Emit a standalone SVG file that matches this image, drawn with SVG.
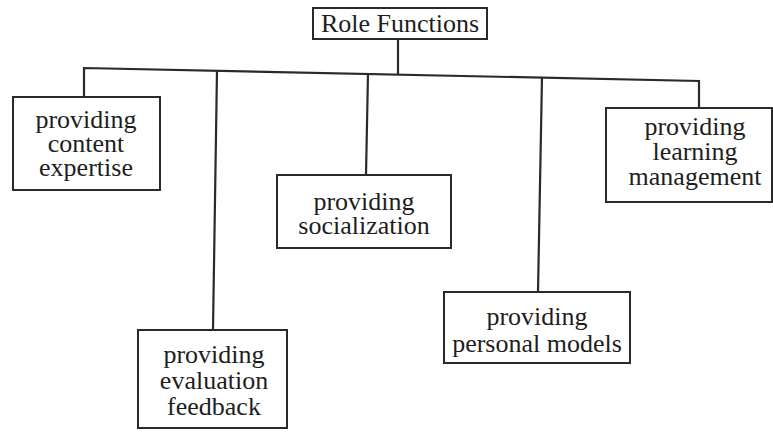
<svg xmlns="http://www.w3.org/2000/svg" width="773" height="432" viewBox="0 0 773 432">
<style>
.box{fill:#fff;stroke:#2a2a2a;stroke-width:2}
.ln{fill:none;stroke:#2a2a2a;stroke-width:2.2}
text{font-family:"Liberation Serif","Times New Roman",serif;font-size:26px;fill:#1e1e1e;text-anchor:middle}
</style>
<rect width="773" height="432" fill="#fff"/>
<g id="connectors">
<polyline class="ln" points="84,97 84,68 699,81 699,108"/>
<line class="ln" x1="398" y1="39" x2="398" y2="74"/>
<line class="ln" x1="217" y1="70" x2="213" y2="330"/>
<line class="ln" x1="368" y1="73" x2="366" y2="175"/>
<line class="ln" x1="542" y1="77" x2="538" y2="292"/>
</g>
<g id="role-functions">
<rect class="box" x="313" y="8" width="174" height="31"/>
<text x="400" y="32">Role Functions</text>
</g>
<g id="content-expertise">
<rect class="box" x="13" y="97" width="147" height="93"/>
<text x="86" y="128">providing</text>
<text x="86" y="152">content</text>
<text x="86" y="176">expertise</text>
</g>
<g id="evaluation-feedback">
<rect class="box" x="138" y="330" width="149" height="98"/>
<text x="214" y="363">providing</text>
<text x="214" y="389">evaluation</text>
<text x="214" y="415">feedback</text>
</g>
<g id="socialization">
<rect class="box" x="277" y="175" width="174" height="73"/>
<text x="364" y="210">providing</text>
<text x="364" y="234">socialization</text>
</g>
<g id="personal-models">
<rect class="box" x="444" y="292" width="186" height="71"/>
<text x="537" y="325">providing</text>
<text x="537" y="352">personal models</text>
</g>
<g id="learning-management">
<rect class="box" x="606" y="108" width="166" height="94"/>
<text x="695" y="135">providing</text>
<text x="695" y="160">learning</text>
<text x="695" y="185">management</text>
</g>
</svg>
